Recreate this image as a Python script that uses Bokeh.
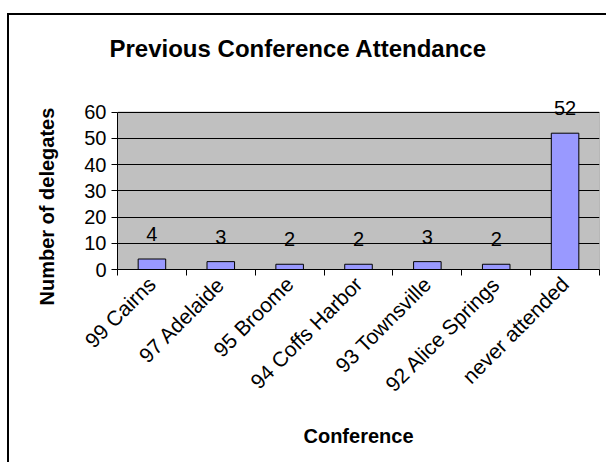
import numpy as np
from bokeh.plotting import figure
from bokeh.models import Range1d, FixedTicker, ColumnDataSource, Label, BoxAnnotation, Title
from bokeh.embed import file_html
from bokeh.resources import INLINE

categories = ["99 Cairns", "97 Adelaide", "95 Broome", "94 Coffs Harbor",
              "93 Townsville", "92 Alice Springs", "never attended"]
delegates = [4, 3, 2, 2, 3, 2, 52]
y_ticks = [0, 10, 20, 30, 40, 50, 60]

FONT = "Liberation Sans"
Y_MAX = y_ticks[-1]

x = [float(v) for v in np.arange(len(categories)) + 0.5]
src = ColumnDataSource(dict(x=x, top=delegates, cat=categories))

# range extends a little above 60 so the value label of the tall bar is not clipped
p = figure(width=599, height=449, output_backend="svg", toolbar_location=None,
           x_range=Range1d(0, len(categories)), y_range=Range1d(0, Y_MAX + 6),
           min_border_left=108, min_border_right=9, min_border_top=81,
           min_border_bottom=195)
p.margin = (13, 0, 0, 7)
p.styles = {"border-left": "2px solid black", "border-top": "2px solid black"}

p.background_fill_color = "white"
p.border_fill_color = "white"
p.outline_line_color = None

# grey plot area (0..60) with grey border
area = BoxAnnotation(left=0, right=len(categories), bottom=0, top=Y_MAX,
                     fill_color="#C0C0C0", fill_alpha=1.0,
                     line_color="#808080", line_alpha=1.0, line_width=1,
                     level="image")
p.add_layout(area)

p.vbar(x="x", top="top", width=0.4, bottom=0, source=src,
       fill_color="#9999FF", line_color="black", line_width=1)

for xi, v in zip(x, delegates):
    p.add_layout(Label(x=xi, y=v, text=str(v), text_align="center",
                       text_baseline="bottom", y_offset=18, text_font_size="20px",
                       text_font=FONT, text_color="black"))

# title (trailing empty line lifts it higher above the plot area)
p.title.text = "Previous Conference Attendance\n"
p.title.align = "left"
p.title.offset = -8
p.title.standoff = 15
p.title.text_font = FONT
p.title.text_font_size = "24px"
p.title.text_font_style = "bold"
p.title.text_color = "black"

# y axis title as a side title
ytitle = Title(text="Number of delegates", align="left", offset=-36, standoff=48,
               text_font=FONT, text_font_size="20px", text_font_style="bold",
               text_color="black")
p.add_layout(ytitle, "left")

# x axis
xa = p.xaxis[0]
xa.ticker = FixedTicker(ticks=x, minor_ticks=list(range(len(categories) + 1)))
xa.major_label_overrides = {xi: c for xi, c in zip(x, categories)}
xa.major_tick_line_color = None
xa.minor_tick_line_color = "black"
xa.minor_tick_in = 0
xa.minor_tick_out = 6
xa.axis_line_color = "black"
xa.major_label_orientation = np.pi / 4
xa.major_label_text_font = FONT
xa.major_label_text_font_size = "21px"
xa.major_label_text_color = "black"
xa.axis_label = "Conference"
xa.axis_label_text_font = FONT
xa.axis_label_text_font_size = "20px"
xa.axis_label_text_font_style = "bold"
xa.axis_label_text_color = "black"
xa.axis_label_standoff = 18

# y axis
ya = p.yaxis[0]
ya.ticker = FixedTicker(ticks=y_ticks, minor_ticks=[])
ya.bounds = (0, Y_MAX)
ya.major_tick_in = 0
ya.major_tick_out = 6
ya.major_tick_line_color = "black"
ya.axis_line_color = "black"
ya.major_label_text_font = FONT
ya.major_label_text_font_size = "20px"
ya.major_label_text_color = "black"

p.xgrid.visible = False
p.ygrid.ticker = FixedTicker(ticks=y_ticks)
p.ygrid.grid_line_color = "black"
p.ygrid.grid_line_alpha = 1.0

open("out.html", "w").write(file_html(p, INLINE))
